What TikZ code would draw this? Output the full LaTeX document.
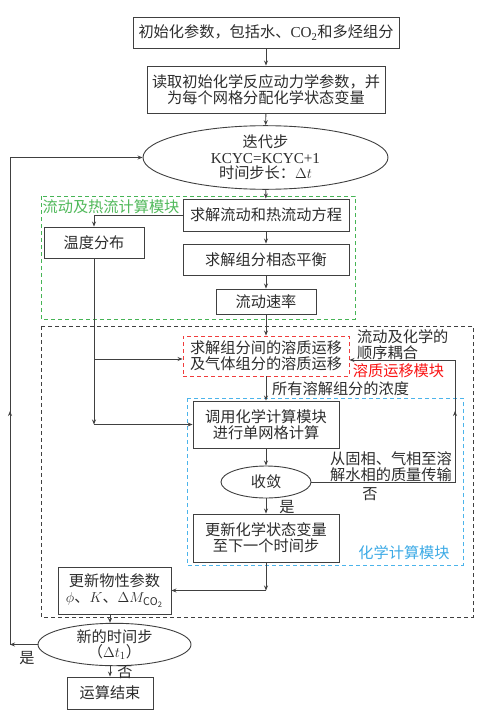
\documentclass[tikz,border=0pt]{standalone}
\usepackage{fontspec}
\setmainfont{Noto Sans CJK SC}
\newfontfamily\lat{Liberation Serif}
\usetikzlibrary{arrows.meta,shapes.geometric}
\definecolor{lncol}{RGB}{64,64,64}
\definecolor{txtcol}{RGB}{45,45,45}
\definecolor{gframe}{RGB}{70,180,85}
\definecolor{rframe}{RGB}{240,60,60}
\definecolor{bframe}{RGB}{75,180,235}
\definecolor{glab}{RGB}{80,185,90}
\definecolor{rlab}{RGB}{250,20,20}
\definecolor{blab}{RGB}{60,170,230}
\begin{document}
\begin{tikzpicture}[x=1pt,y=-1pt,
 every node/.style={font=\fontsize{15.2}{16.2}\selectfont, text=txtcol},
 box/.style={draw=lncol, line width=0.9pt, rectangle, inner sep=0pt, align=center},
 ell/.style={draw=lncol, line width=0.9pt, ellipse, inner sep=0pt, align=center},
 arr/.style={draw=lncol, line width=0.9pt, -{Stealth[length=5pt,width=4pt]}},
 lnst/.style={draw=lncol, line width=0.9pt},
 dframe/.style={line width=0.9pt, dash pattern=on 4pt off 3pt},
 lab/.style={inner sep=0pt, align=left}
]
\useasboundingbox (0,0) rectangle (484,717);
\fill[white] (0,0) rectangle (484,717);

% dashed module frames
\draw[dframe, draw=gframe] (41,196) rectangle (355,319);
\draw[dframe, draw=black!75] (41,326) rectangle (473,617);
\draw[dframe, draw=bframe] (187,398) rectangle (463,565);

% nodes
\node[box, minimum width=266pt, minimum height=31pt] (b1) at (266,32.5)
  {初始化参数，包括水、{\lat CO\textsubscript{2}}和多烃组分};
\node[box, minimum width=238pt, minimum height=47pt] (b2) at (266,89.5)
  {读取初始化学反应动力学参数，并\\为每个网格分配化学状态变量};
\node[ell, minimum width=245pt, minimum height=51pt, font=\fontsize{15.2}{15.5}\selectfont] (e1) at (265.5,157.5)
  {迭代步\\{\lat KCYC=KCYC+1}\\时间步长：$\Delta t$};
\node[box, minimum width=166pt, minimum height=32pt] (flow) at (266,215) {求解流动和热流动方程};
\node[box, minimum width=100pt, minimum height=31pt] (temp) at (94,242.5) {温度分布};
\node[box, minimum width=166pt, minimum height=31pt] (phase) at (266,259.5) {求解组分相态平衡};
\node[box, minimum width=100pt, minimum height=25pt] (rate) at (266,301.5) {流动速率};
\node[box, dframe, draw=rframe, minimum width=166pt, minimum height=40pt] (red) at (266,356)
  {求解组分间的溶质运移\\及气体组分的溶质运移};
\node[box, minimum width=146pt, minimum height=47pt] (call) at (266,424.5)
  {调用化学计算模块\\进行单网格计算};
\node[ell, minimum width=90pt, minimum height=32pt] (conv) at (266,482) {收敛};
\node[box, minimum width=146pt, minimum height=48pt] (upd) at (266,538)
  {更新化学状态变量\\至下一个时间步};
\node[box, minimum width=113pt, minimum height=47pt] (prop) at (114.5,590.5)
  {更新物性参数\\$\phi$、$K$、$\Delta M_{\mathrm{CO_2}}$};
\node[ell, minimum width=153pt, minimum height=33pt, font=\fontsize{15.2}{15}\selectfont] (e3) at (114.5,644.5)
  {新的时间步\\（$\Delta t_1$）};
\node[box, minimum width=86pt, minimum height=32pt] (fin) at (110,693) {运算结束};

% labels
\node[lab, text=glab] (lg) at (111,207) {流动及热流计算模块};
\node[lab, anchor=west, font=\fontsize{15.2}{15.5}\selectfont] (lcoup) at (357,344.5) {流动及化学的\\顺序耦合};
\node[lab, text=rlab] (lr) at (398.5,371) {溶质运移模块};
\node[lab, anchor=west] (lconc) at (272,389) {所有溶解组分的浓度};
\node[lab, anchor=west, font=\fontsize{15.2}{15.5}\selectfont] (lmass) at (330,466.5) {从固相、气相至溶\\解水相的质量传输};
\node[lab] (lno1) at (370,494) {否};
\node[lab] (lyes1) at (287,507) {是};
\node[lab, text=blab] (lb) at (404,553) {化学计算模块};
\node[lab] (lyes2) at (27,658) {是};
\node[lab] (lno2) at (125,672) {否};

% coordinates
\coordinate (jA) at (94,359);
\coordinate (jB) at (94,424.5);
\coordinate (rc1) at (455,482);
\coordinate (rc2) at (455,360);
\coordinate (rm1) at (455,420);
\coordinate (rm2) at (455,411);
\coordinate (uc) at (266,590.5);
\coordinate (lc1) at (10,644.5);
\coordinate (lc2) at (10,157.5);
\coordinate (lm1) at (10,420);
\coordinate (lm2) at (10,411);

% connectors
\draw[arr] (b1) -- (b2);
\draw[arr] (b2) -- (e1);
\draw[arr] (e1) -- (flow);
\draw[arr] (flow.west) -| (temp.north);
\draw[arr] (flow) -- (phase);
\draw[arr] (phase) -- (rate);
\draw[arr] (rate) -- (red);
\draw[arr] (temp.south) -- (jB);
\draw[arr] (jB) -- (call.west);
\draw[arr] (jA) -- (jA -| red.west);
\draw[arr] (red) -- (call);
\draw[arr] (call) -- (conv);
\draw[lnst] (conv.east) -- (rc1) -- (rc2);
\draw[arr] (rc2) -- (rc2 -| red.east);
\draw[arr] (rm1) -- (rm2);
\draw[arr] (conv) -- (upd);
\draw[arr] (upd.south) -- (uc);
\draw[arr] (uc) -- (prop.east);
\draw[arr] (prop.south -| fin.north) -- (e3.north -| fin.north);
\draw[arr] (e3.south -| fin.north) -- (fin.north);
\draw[arr] (e3.west) -- (lc1);
\draw[lnst] (lc1) -- (lc2);
\draw[arr] (lc2) -- (e1.west);
\draw[arr] (lm1) -- (lm2);
\end{tikzpicture}
\end{document}
